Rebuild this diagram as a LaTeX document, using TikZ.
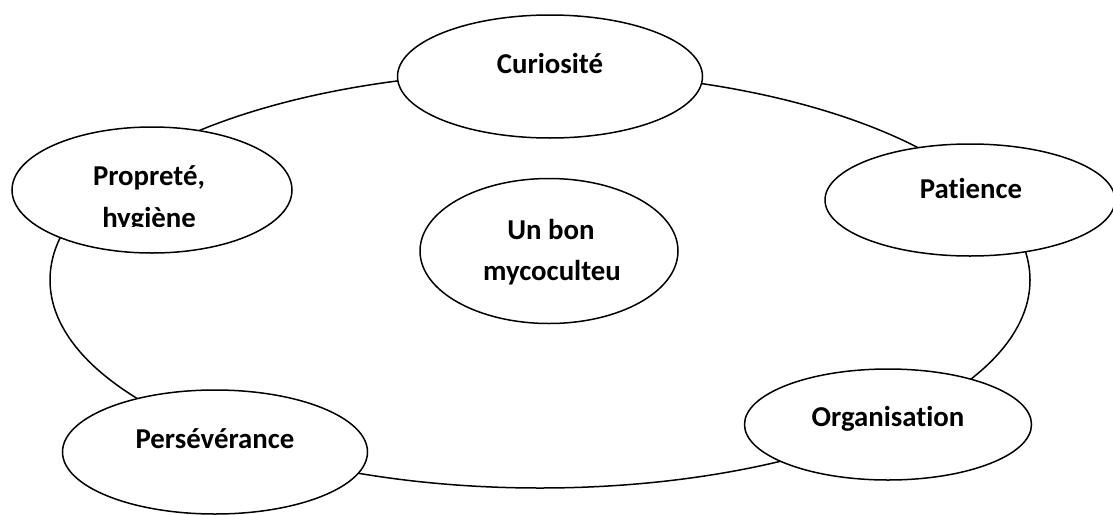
\documentclass[tikz,border=0pt]{standalone}
\usepackage{fontspec}
\setmainfont{Carlito}[Ligatures={NoCommon,NoContextual}]
\usetikzlibrary{shapes.geometric}
\tikzset{
  bubble/.style={draw=black, fill=white, ellipse, line width=1.5pt, inner sep=0pt, outer sep=0pt},
  ringshape/.style={draw=black, ellipse, line width=1.5pt, inner sep=0pt, outer sep=0pt},
  lbl/.style={anchor=base, inner sep=0pt, font=\fontsize{28.8}{34}\selectfont\bfseries}
}
\begin{document}
\begin{tikzpicture}[x=1pt,y=-1pt]
\useasboundingbox (0,0) rectangle (1113,514);
% outer ring
\node[ringshape, minimum width=980pt, minimum height=416pt] (ring) at (540,280) {};
% bubbles
\node[bubble, minimum width=305pt, minimum height=123pt] (cur) at (550,76.5) {};
\node[bubble, minimum width=290pt, minimum height=112pt] (pat) at (970,200) {};
\node[bubble, minimum width=287pt, minimum height=111pt] (org) at (888,424.5) {};
\node[bubble, minimum width=305pt, minimum height=124pt] (per) at (215,452) {};
\node[bubble, minimum width=280pt, minimum height=126pt] (pro) at (152,190) {};
\node[bubble, minimum width=258pt, minimum height=145pt] (ctr) at (549,251) {};
% labels
\node[lbl] (tcur) at (550,73) {Curiosité};
\node[lbl] (tpat) at (971,198) {Patience};
\node[lbl] (torg) at (888,426) {Organisation};
\node[lbl] (tper) at (215,448) {Persévérance};
\node[lbl] (tpro1) at (149,185) {Propreté,};
\begin{scope}
  \clip (0,0) rectangle (1113,226);
  \node[lbl] (tpro2) at (149,227) {hygiène};
\end{scope}
\node[lbl] (tctr1) at (551,239) {Un bon};
\node[lbl] (tctr2) at (552,280) {mycoculteu};
\end{tikzpicture}
\end{document}
